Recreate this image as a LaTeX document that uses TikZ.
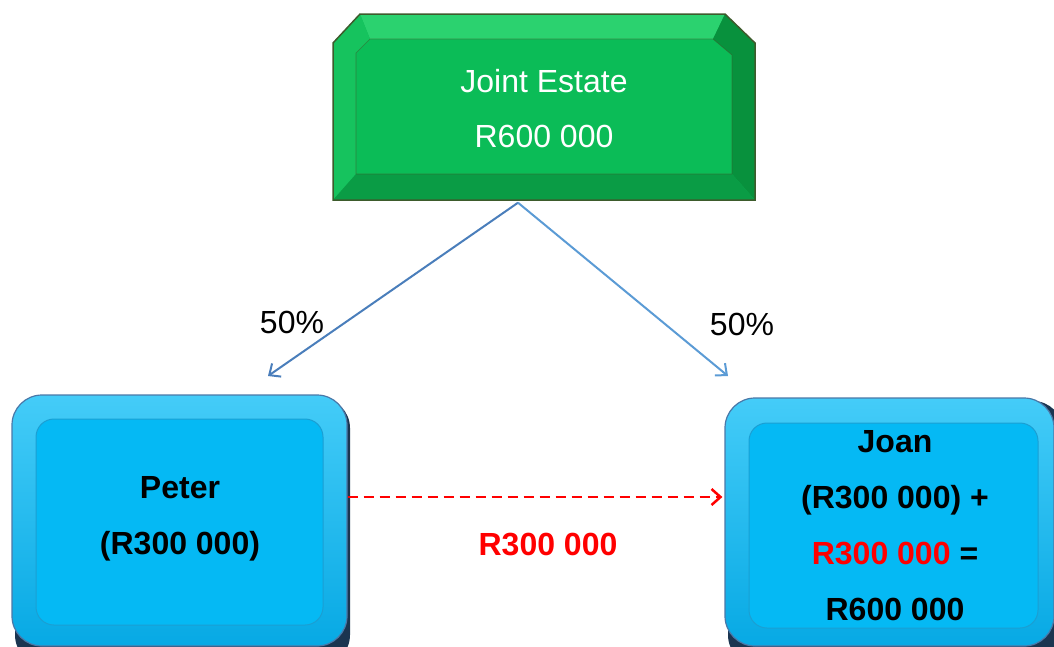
\documentclass[tikz,border=0pt]{standalone}
\usepackage{fontspec}
\setmainfont{Liberation Sans}
\usetikzlibrary{arrows.meta,calc}
\definecolor{gmain}{HTML}{0BBC57}
\definecolor{gtop}{HTML}{2BD26F}
\definecolor{gleft}{HTML}{16C35E}
\definecolor{gright}{HTML}{08913D}
\definecolor{gbot}{HTML}{0A9C45}
\definecolor{gline}{HTML}{3D5B2C}
\definecolor{bmain}{HTML}{05B9F4}
\definecolor{btop}{HTML}{44CCF8}
\definecolor{bbot}{HTML}{07A9E4}
\definecolor{bline}{HTML}{4A78A8}
\definecolor{binner}{HTML}{1B9FD3}
\definecolor{bshadow}{HTML}{1B3550}
\definecolor{arrL}{HTML}{4A7EBB}
\definecolor{arrR}{HTML}{5B9BD5}
\tikzset{
  txt/.style={font=\fontsize{32}{55}\selectfont, align=center, inner sep=0pt},
  btxt/.style={txt, font=\fontsize{32}{56}\selectfont\bfseries},
  bluebox/.style={draw=bline, line width=1.2pt, rounded corners=30pt, top color=btop, bottom color=bbot, inner sep=0pt},
  innerbox/.style={fill=bmain, draw=binner, line width=1pt, rounded corners=18pt},
  share/.style={line width=2pt, -{Straight Barb[length=9pt,width=16pt]}},
  gift/.style={red, line width=2.5pt, dash pattern=on 10pt off 6pt, -{Straight Barb[length=9pt,width=16pt]}}
}
\begin{document}
\begin{tikzpicture}[x=1pt,y=-1pt]
\useasboundingbox (0,0) rectangle (1054,646);
\begin{scope}
\clip (0,0) rectangle (1054,646);
% green beveled box
\fill[gmain] (333,43) -- (360,14) -- (725,14) -- (755,43) -- (755,200) -- (333,200) -- cycle;
\fill[gtop] (360,14) -- (725,14) -- (713,39) -- (370,39) -- cycle;
\fill[gleft] (333,43) -- (360,14) -- (370,39) -- (356,53) -- (356,174) -- (333,200) -- cycle;
\fill[gright] (725,14) -- (755,43) -- (755,200) -- (732,174) -- (732,55) -- (713,39) -- cycle;
\fill[gbot] (333,200) -- (755,200) -- (732,174) -- (356,174) -- cycle;
\draw[gline, line width=0.6pt, opacity=0.6] (370,39) -- (713,39) -- (732,55) -- (732,174) -- (356,174) -- (356,53) -- cycle;
\draw[gline, line width=1.5pt] (333,43) -- (360,14) -- (725,14) -- (755,43) -- (755,200) -- (333,200) -- cycle;
\node[txt, text=white, minimum width=422pt, minimum height=187pt] (estate) at (544,109) {Joint Estate\\R600 000};
% blue boxes
\fill[bshadow, rounded corners=30pt] (15,398) rectangle (350,665);
\node[bluebox, minimum width=335pt, minimum height=251pt] (peter) at (179.5,520.5) {};
\fill[innerbox] (36,419) rectangle (323,625);
\fill[bshadow, rounded corners=30pt] (728,401) rectangle (1063,665);
\node[bluebox, minimum width=329pt, minimum height=248pt] (joan) at (889.5,522) {};
\fill[innerbox] (749,423) rectangle (1038,628);
\node[btxt] (petertext) at (180,519) {Peter\\(R300 000)};
\node[btxt] (joantext) at (895,526) {Joan\\(R300 000) +\\\textcolor{red}{R300 000} =\\R600 000};
% connectors
\coordinate (endL) at (268,376);
\coordinate (endR) at (728,376);
\draw[share, arrL] ([xshift=-26pt]estate.south) -- (endL);
\draw[share, arrR] ([xshift=-26pt]estate.south) -- (endR);
\node[txt] (pctL) at (292,322) {50\%};
\node[txt] (pctR) at (742,324) {50\%};
\draw[gift] ([yshift=23.5pt]peter.east) -- ([yshift=25pt,xshift=-2pt]joan.west);
\node[btxt, text=red] (giftlabel) at (548,544) {R300 000};
\end{scope}
\end{tikzpicture}
\end{document}
